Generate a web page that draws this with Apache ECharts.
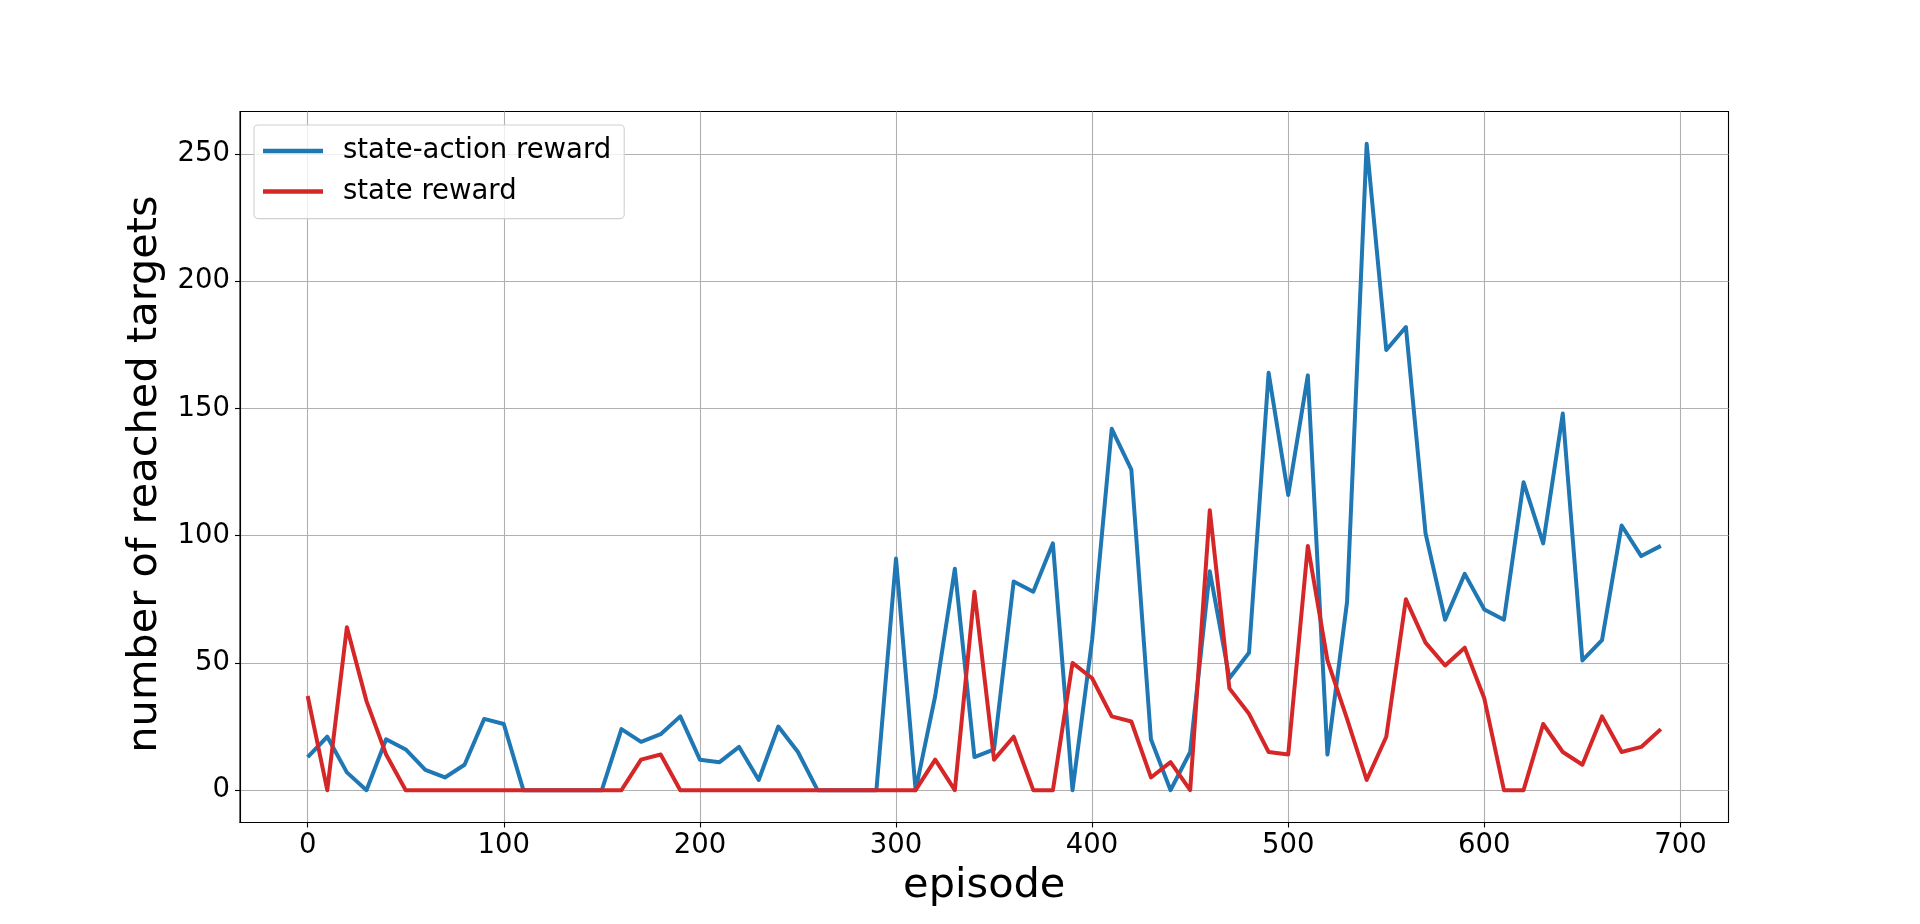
<!DOCTYPE html>
<html>
<head>
<meta charset="utf-8">
<style>
  html, body { margin: 0; padding: 0; background: #ffffff; }
  #chart { width: 1920px; height: 924px; }
</style>
<script src="https://cdn.jsdelivr.net/npm/echarts@6/dist/echarts.min.js"></script>
</head>
<body>
<div id="chart"></div>
<script>
const episodes = [0, 10, 20, 30, 40, 50, 60, 70, 80, 90,
  100, 110, 120, 130, 140, 150, 160, 170, 180, 190,
  200, 210, 220, 230, 240, 250, 260, 270, 280, 290,
  300, 310, 320, 330, 340, 350, 360, 370, 380, 390,
  400, 410, 420, 430, 440, 450, 460, 470, 480, 490,
  500, 510, 520, 530, 540, 550, 560, 570, 580, 590,
  600, 610, 620, 630, 640, 650, 660, 670, 680, 690];

const stateActionReward = [13, 21, 7, 0, 20, 16, 8, 5, 10, 28,
  26, 0, 0, 0, 0, 0, 24, 19, 22, 29,
  12, 11, 17, 4, 25, 15, 0, 0, 0, 0,
  91, 0, 37, 87, 13, 16, 82, 78, 97, 0,
  59, 142, 126, 20, 0, 15, 86, 44, 54, 164,
  116, 163, 14, 74, 254, 173, 182, 101, 67, 85,
  71, 67, 121, 97, 148, 51, 59, 104, 92, 96];

const stateReward = [37, 0, 64, 35, 14, 0, 0, 0, 0, 0,
  0, 0, 0, 0, 0, 0, 0, 12, 14, 0,
  0, 0, 0, 0, 0, 0, 0, 0, 0, 0,
  0, 0, 12, 0, 78, 12, 21, 0, 0, 50,
  44, 29, 27, 5, 11, 0, 110, 40, 30, 15,
  14, 96, 51, 28, 4, 21, 75, 58, 49, 56,
  36, 0, 0, 26, 15, 10, 29, 15, 17, 24];

const xTicks = [0, 100, 200, 300, 400, 500, 600, 700];
const yTicks = [0, 50, 100, 150, 200, 250];

const seriesNames = ['state-action reward', 'state reward'];
const seriesColors = ['#1f77b4', '#d62728'];

const FONT = 'DejaVu Sans';

function pairs(xs, ys) { return xs.map((x, i) => [x, ys[i]]); }

const chart = echarts.init(document.getElementById('chart'), null, { renderer: 'canvas' });

const option = {
  backgroundColor: '#ffffff',
  animation: false,
  textStyle: { fontFamily: FONT },
  grid: {
    left: 240, right: 191.5, top: 111.5, bottom: 101.5,
    show: true, borderColor: '#000000', borderWidth: 1.1,
    backgroundColor: 'transparent'
  },
  legend: {
    orient: 'vertical',
    left: 254, top: 125,
    padding: [12, 13, 13, 9],
    itemGap: 12.6,
    itemWidth: 60,
    itemHeight: 4.5,
    icon: 'rect',
    backgroundColor: 'rgba(255,255,255,0.8)',
    borderColor: '#d0d0d0',
    borderWidth: 1.1,
    borderRadius: 4,
    textStyle: {
      fontFamily: FONT, fontSize: 27.5, color: '#000000',
      lineHeight: 28, padding: [0, 0, 0, 15]
    },
    data: seriesNames
  },
  xAxis: {
    type: 'value',
    min: -34.5, max: 724.5,
    name: 'episode',
    nameLocation: 'middle',
    nameGap: 43,
    nameTextStyle: { fontFamily: FONT, fontSize: 41.5, color: '#000000' },
    axisLine: { show: true, onZero: false, lineStyle: { color: '#000000', width: 1.1 } },
    axisTick: { show: true, inside: false, length: 5, customValues: xTicks, lineStyle: { color: '#000000', width: 1.1 } },
    axisLabel: { customValues: xTicks, fontFamily: FONT, fontSize: 27.5, color: '#000000', margin: 9 },
    splitLine: { show: true, lineStyle: { color: '#b0b0b0', width: 1.1 } }
  },
  yAxis: {
    type: 'value',
    min: -12.7, max: 266.7,
    name: 'number of reached targets',
    nameLocation: 'middle',
    nameGap: 61,
    nameTextStyle: { fontFamily: FONT, fontSize: 41.5, color: '#000000', padding: [0, 14, 0, 0] },
    axisLine: { show: true, onZero: false, lineStyle: { color: '#000000', width: 1.1 } },
    axisTick: { show: true, inside: false, length: 5, customValues: yTicks, lineStyle: { color: '#000000', width: 1.1 } },
    axisLabel: { customValues: yTicks, fontFamily: FONT, fontSize: 27.5, color: '#000000', margin: 10, padding: [3, 0, 0, 0] },
    splitLine: { show: true, lineStyle: { color: '#b0b0b0', width: 1.1 } }
  },
  series: [
    {
      name: seriesNames[0],
      type: 'line',
      data: pairs(episodes, stateActionReward),
      showSymbol: false,
      symbol: 'none',
      color: seriesColors[0],
      lineStyle: { color: seriesColors[0], width: 4, join: 'round', cap: 'butt' },
      itemStyle: { color: seriesColors[0] },
      z: 3
    },
    {
      name: seriesNames[1],
      type: 'line',
      data: pairs(episodes, stateReward),
      showSymbol: false,
      symbol: 'none',
      color: seriesColors[1],
      lineStyle: { color: seriesColors[1], width: 4, join: 'round', cap: 'butt' },
      itemStyle: { color: seriesColors[1] },
      z: 4
    }
  ]
};

chart.setOption(option);
</script>
</body>
</html>
